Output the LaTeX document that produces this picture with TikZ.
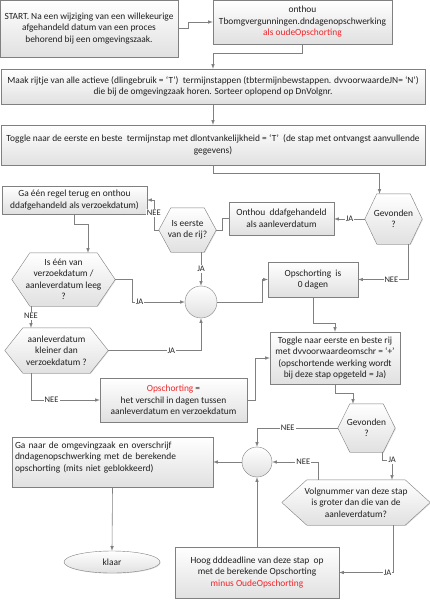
\documentclass[tikz,border=0pt]{standalone}
\usepackage{fontspec}
\setmainfont{Carlito}
\usetikzlibrary{shadows}
\usetikzlibrary{arrows,shapes}
\usetikzlibrary{backgrounds}
\definecolor{linegray}{RGB}{128,128,128}
\definecolor{alarm}{RGB}{240,35,40}
\tikzstyle{stepbox}=[rectangle,draw=linegray,top color=white,bottom color=black!12,drop shadow={shadow xshift=0.7pt,shadow yshift=-0.7pt,opacity=0.25},align=center,inner sep=2pt,text=black!88]
\tikzstyle{decision}=[rectangle,align=center,inner sep=0pt,text=black!88]
\tikzstyle{hexpath}=[draw=linegray,top color=white,bottom color=black!12,drop shadow={shadow xshift=0.7pt,shadow yshift=-0.7pt,opacity=0.25}]
\tikzstyle{joint}=[circle,draw=linegray,top color=white,bottom color=black!12,minimum size=32pt,inner sep=0pt]
\tikzstyle{flow}=[draw=linegray,line width=0.6pt,->,>=latex]
\tikzstyle{answer}=[fill=white,inner sep=1pt,font=\fontsize{8.5}{9}\selectfont,text=black!85]
\begin{document}
\begin{tikzpicture}[x=1pt,y=-1pt,font=\fontsize{9.4}{11.5}\selectfont]
\useasboundingbox (0,0) rectangle (430,600);

    \node[stepbox, minimum width=178pt, minimum height=57pt] (start) at (89,28.5) {START. Na een wijziging van een willekeurige\\afgehandeld datum van een proces\\behorend bij een omgevingszaak.};
    \node[stepbox, minimum width=179pt, minimum height=44pt] (oud) at (302.5,22) {onthou\\Tbomgvergunningen.dndagenopschwerking\\\textcolor{alarm}{als oudeOpschorting}};
    \node[stepbox, minimum width=424pt, minimum height=35pt] (rijtje) at (213,86.5) {Maak rijtje van alle actieve (dlingebruik = ‘T’)~~termijnstappen (tbtermijnbewstappen. dvvoorwaardeJN= ‘N’)\\die bij de omgevingzaak horen. Sorteer oplopend op DnVolgnr.};
    \node[stepbox, minimum width=424pt, minimum height=40pt] (toggle) at (213,145) {Toggle naar de eerste en beste~~termijnstap met dlontvankelijkheid = ‘T’~~(de stap met ontvangst aanvullende\\gegevens)};

    \node[decision, minimum width=57pt, minimum height=50pt] (gev1) at (393.5,219) {Gevonden\\?};
    \node[stepbox, minimum width=105pt, minimum height=33pt] (aanl) at (281.5,218.5) {Onthou~~ddafgehandeld\\als aanleverdatum};
    \node[decision, minimum width=57pt, minimum height=44pt] (eerste) at (187.5,230) {Is eerste\\van de rij?};
    \node[stepbox, minimum width=145pt, minimum height=28pt] (terug) at (74.5,200) {Ga één regel terug en onthou\\ddafgehandeld als verzoekdatum)};
    \node[decision, minimum width=103pt, minimum height=53pt] (leeg) at (63.5,279.5) {Is één van\\verzoekdatum /\\aanleverdatum leeg\\?};
    \node[joint] (join1) at (201,302) {};
    \node[stepbox, minimum width=90pt, minimum height=35pt] (nul) at (313,279.5) {Opschorting~~is\\0 dagen};
    \node[decision, minimum width=103pt, minimum height=45pt] (kleiner) at (56.5,350.5) {aanleverdatum\\kleiner dan\\verzoekdatum ?};
    \node[stepbox, minimum width=147pt, minimum height=44pt] (verschil) at (173.5,400) {\textcolor{alarm}{Opschorting} =\\het verschil in dagen tussen\\aanleverdatum en verzoekdatum};
    \node[stepbox, minimum width=130pt, minimum height=52pt] (toggle2) at (335,358) {Toggle naar eerste en beste rij\\met dvvoorwaardeomschr = ‘+’\\(opschortende werking wordt\\bij deze stap opgeteld = Ja)};
    \node[decision, minimum width=57pt, minimum height=48pt] (gev2) at (366.5,428) {Gevonden\\?};
    \node[joint, minimum size=30pt] (join2) at (257,462) {};
    \node[decision, minimum width=148pt, minimum height=45pt] (volg) at (356,502.5) {Volgnummer van deze stap\\is groter dan die van de\\aanleverdatum?};
    \node[stepbox, minimum width=164pt, minimum height=51pt] (hoog) at (257,572.5) {Hoog dddeadline van deze stap~~op\\met de berekende Opschorting\\\textcolor{alarm}{minus OudeOpschorting}};
    \node[stepbox, minimum width=201pt, minimum height=50pt, align=left, text width=195pt] (ganaar) at (112.5,462) {Ga naar de omgevingzaak en overschrijf\\dndagenopschwerking met de berekende\\opschorting (mits niet geblokkeerd)\\~};
    \node[stepbox, ellipse, minimum width=96pt, minimum height=22pt] (klaar) at (112,562) {klaar};

    \begin{scope}[on background layer]
    \foreach \name/\cut in {gev1/12, eerste/12, leeg/18, kleiner/18, gev2/12, volg/25}
        \path[hexpath] (\name.west) -- ([xshift=\cut pt]\name.north west) -- ([xshift=-\cut pt]\name.north east) -- (\name.east) -- ([xshift=-\cut pt]\name.south east) -- ([xshift=\cut pt]\name.south west) -- cycle;
    \end{scope}

       \draw[flow] (start.east) -- ++(10,0) |- (oud.west);
       \draw[flow] (oud.south) -- ++(0,9) -| (rijtje.north);
       \draw[flow] (rijtje.south) -- (toggle.north);
       \draw[flow] (toggle.south) -- ++(0,8) -| ([xshift=-14pt]gev1.north);

       \draw[flow] (gev1.west) -- (gev1.west -| aanl.east) node[answer, midway] {JA};
       \draw[draw=linegray, line width=0.6pt] (aanl.west) -- ++(-7,0) |- (eerste.east);
       \draw[flow] (eerste.west) -- ++(-5,0) |- (terug.east) node[answer, pos=0.28] {NEE};
       \draw[flow] (eerste.south -| join1.north) -- (join1.north) node[answer, midway] {JA};
       \draw[flow] (terug.south) -- ++(0,10) -| ([xshift=24.5pt]leeg.north);
       \draw[flow] (leeg.east) -- ++(17,0) |- (join1.west) node[answer, pos=0.57] {JA};
       \draw[flow] ([xshift=-32.5pt]leeg.south) -- ([xshift=-32.5pt]leeg.south |- kleiner.north) node[answer, pos=0.45] {NEE};
       \draw[flow] (kleiner.east) -| (join1.south) node[answer, pos=0.34] {JA};
       \draw[flow] ([xshift=-25.5pt]kleiner.south) |- (verschil.west) node[answer, pos=0.65] {NEE};

       \draw[flow] (join1.east) -- ++(45,0) |- (nul.west);
       \draw[flow] ([xshift=15pt]gev1.south) |- (nul.east) node[answer, pos=0.67] {NEE};
       \draw[flow] (nul.south) -- ++(0,26) -| (toggle2.north);
       \draw[flow] (verschil.east) -- ++(8,0) |- (toggle2.west);
       \draw[flow] (toggle2.south) -- ++(0,9) -| ([xshift=-13.5pt]gev2.north);

       \draw[flow] (gev2.west) -| (join2.north) node[answer, pos=0.31] {NEE};
       \draw[flow] ([xshift=15.5pt]gev2.south) -- ++(0,8) -| ([xshift=36pt]volg.north) node[answer, pos=0.5] {JA};
       \draw[flow] ([xshift=-38pt]volg.north) |- (join2.east) node[answer, pos=0.66] {NEE};
       \draw[flow] ([xshift=37pt]volg.south) |- (hoog.east) node[answer, pos=0.55] {JA};
       \draw[flow] (hoog.north) -- (join2.south);
       \draw[flow] (join2.west) -- (ganaar.east);
       \draw[flow] (ganaar.south) -- (klaar.north);

   \end{tikzpicture}
\end{document}
